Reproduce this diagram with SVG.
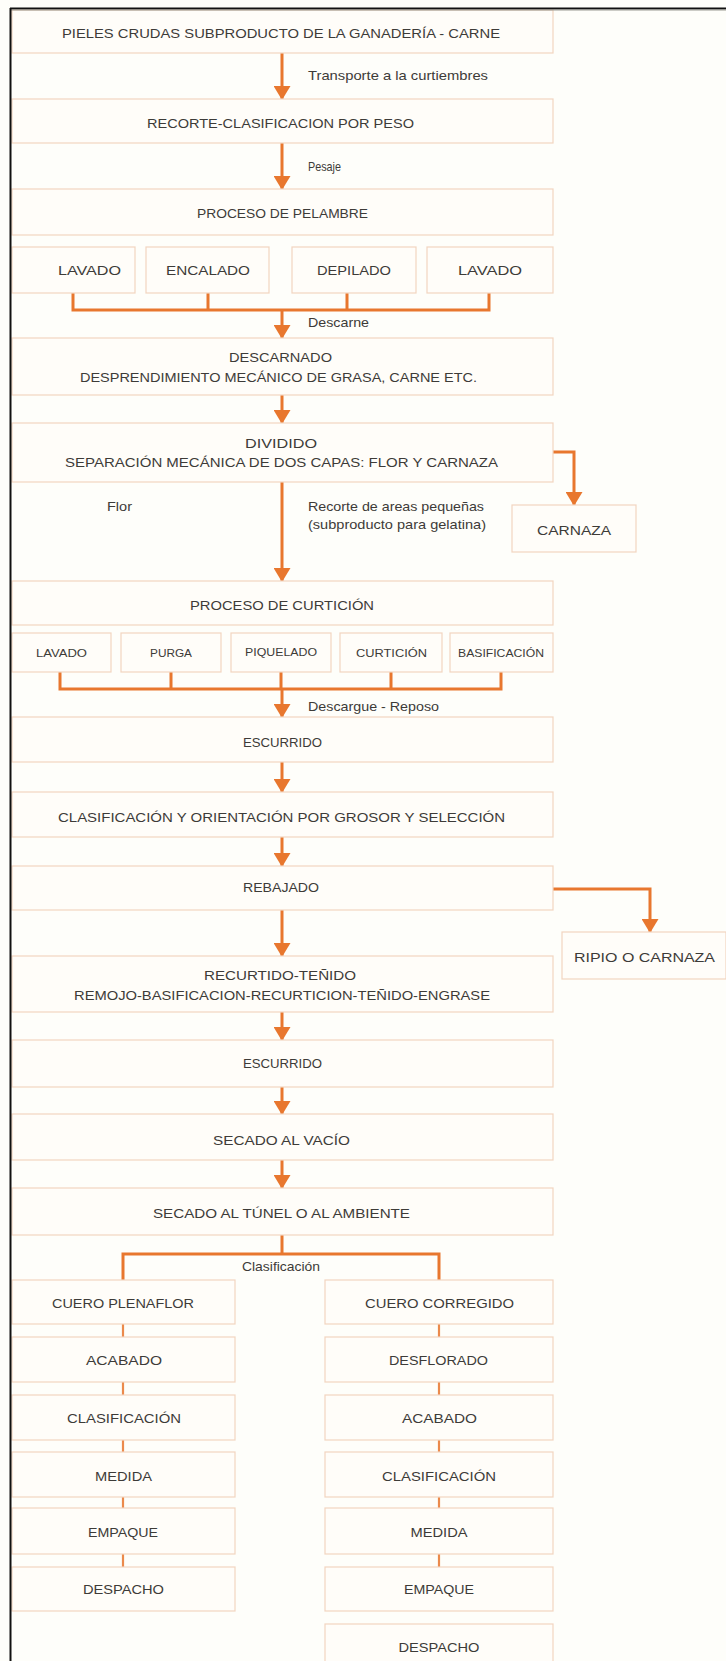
<svg xmlns="http://www.w3.org/2000/svg" width="726" height="1661" viewBox="0 0 726 1661">
  <defs>
    <style>
      .box { fill: #fffdf9; stroke: #f2d5c0; stroke-width: 1.2; }
      .t { font-family: "Liberation Sans", Arial, sans-serif; font-size: 13.5px; fill: #3d3b38; text-anchor: middle; }
      .ts { font-family: "Liberation Sans", Arial, sans-serif; font-size: 11px; fill: #3d3b38; text-anchor: middle; }
      .lbl { font-family: "Liberation Sans", Arial, sans-serif; font-size: 13px; fill: #3d3b38; }
      .lblc { font-family: "Liberation Sans", Arial, sans-serif; font-size: 13px; fill: #3d3b38; text-anchor: middle; }
      .flow { fill: none; stroke: #e8772e; stroke-width: 3; }
      .arrow { fill: none; stroke: #e8772e; stroke-width: 3; marker-end: url(#head); }
      .tick { fill: none; stroke: #eb8a4c; stroke-width: 2.2; }
    </style>
    <marker id="head" viewBox="0 0 14 17" refX="13" refY="8.5" markerWidth="14" markerHeight="17" markerUnits="userSpaceOnUse" orient="auto">
      <path d="M0,0 L14,8.5 L0,17 z" fill="#e8772e"/>
    </marker>
  </defs>

  <!-- page -->
  <rect x="0" y="0" width="726" height="1661" fill="#fefefa"/>

  <!-- connectors -->
  <g id="connectors">
    <line class="arrow" x1="282" y1="53" x2="282" y2="99"/>
    <line class="arrow" x1="282" y1="143" x2="282" y2="189"/>
    <!-- pelambre sub-steps merge -->
    <path class="flow" d="M73,293 V310 M208,293 V310 M347,293 V310 M489,293 V310 M71.5,310 H490.5"/>
    <line class="arrow" x1="282" y1="310" x2="282" y2="338"/>
    <line class="arrow" x1="282" y1="395" x2="282" y2="423"/>
    <line class="arrow" x1="282" y1="482" x2="282" y2="581"/>
    <path class="arrow" d="M553,452 H574 V505"/>
    <!-- curtición sub-steps merge -->
    <path class="flow" d="M60,672 V689 M171,672 V689 M281,672 V689 M391,672 V689 M501,672 V689 M58.5,689 H502.5"/>
    <line class="arrow" x1="282" y1="689" x2="282" y2="717"/>
    <line class="arrow" x1="282" y1="762" x2="282" y2="792"/>
    <line class="arrow" x1="282" y1="837" x2="282" y2="866"/>
    <path class="arrow" d="M553,889 H650 V932"/>
    <line class="arrow" x1="282" y1="910" x2="282" y2="956"/>
    <line class="arrow" x1="282" y1="1012" x2="282" y2="1040"/>
    <line class="arrow" x1="282" y1="1087" x2="282" y2="1114"/>
    <line class="arrow" x1="282" y1="1160" x2="282" y2="1188"/>
    <!-- split by classification -->
    <path class="flow" d="M282,1235 V1254 M121.5,1254 H440.5 M123,1254 V1280 M439,1254 V1280"/>
    <!-- left column links -->
    <path class="tick" d="M123,1324 V1337 M123,1382 V1395 M123,1440 V1452 M123,1497 V1508 M123,1554 V1567"/>
    <!-- right column links -->
    <path class="tick" d="M439,1324 V1337 M439,1382 V1395 M439,1440 V1452 M439,1497 V1508 M439,1554 V1567"/>
    <text class="lbl" x="308" y="80" textLength="180" lengthAdjust="spacingAndGlyphs">Transporte a la curtiembres</text>
    <text class="lbl" x="308" y="171" textLength="33" lengthAdjust="spacingAndGlyphs">Pesaje</text>
    <text class="lbl" x="308" y="327" textLength="61" lengthAdjust="spacingAndGlyphs">Descarne</text>
    <text class="lbl" x="107" y="511" textLength="25" lengthAdjust="spacingAndGlyphs">Flor</text>
    <text class="lbl" x="308" y="511" textLength="176" lengthAdjust="spacingAndGlyphs">Recorte de areas pequeñas</text>
    <text class="lbl" x="308" y="529" textLength="178" lengthAdjust="spacingAndGlyphs">(subproducto para gelatina)</text>
    <text class="lbl" x="308" y="711" textLength="131" lengthAdjust="spacingAndGlyphs">Descargue - Reposo</text>
    <text class="lblc" x="281" y="1271" textLength="78" lengthAdjust="spacingAndGlyphs">Clasificación</text>
  </g>

  <g id="n-pieles">
    <rect class="box" x="12" y="10" width="541" height="43"/>
    <text class="t" x="281" y="38" textLength="438" lengthAdjust="spacingAndGlyphs">PIELES CRUDAS SUBPRODUCTO DE LA GANADERÍA - CARNE</text>
  </g>
  <g id="n-recorte">
    <rect class="box" x="12" y="99" width="541" height="44"/>
    <text class="t" x="280.5" y="128" textLength="267" lengthAdjust="spacingAndGlyphs">RECORTE-CLASIFICACION POR PESO</text>
  </g>
  <g id="n-pelambre">
    <rect class="box" x="12" y="189" width="541" height="46"/>
    <text class="t" x="282.5" y="218" textLength="171" lengthAdjust="spacingAndGlyphs">PROCESO DE PELAMBRE</text>
  </g>
  <g id="n-lavado1">
    <rect class="box" x="12" y="247" width="123" height="46"/>
    <text class="t" x="89.5" y="275" textLength="63" lengthAdjust="spacingAndGlyphs">LAVADO</text>
  </g>
  <g id="n-encalado">
    <rect class="box" x="146" y="247" width="123" height="46"/>
    <text class="t" x="208" y="275" textLength="84" lengthAdjust="spacingAndGlyphs">ENCALADO</text>
  </g>
  <g id="n-depilado">
    <rect class="box" x="292" y="247" width="124" height="46"/>
    <text class="t" x="354" y="275" textLength="74" lengthAdjust="spacingAndGlyphs">DEPILADO</text>
  </g>
  <g id="n-lavado2">
    <rect class="box" x="427" y="247" width="126" height="46"/>
    <text class="t" x="490" y="275" textLength="64" lengthAdjust="spacingAndGlyphs">LAVADO</text>
  </g>
  <g id="n-descarnado">
    <rect class="box" x="12" y="338" width="541" height="57"/>
    <text class="t" x="280.5" y="362" textLength="103" lengthAdjust="spacingAndGlyphs">DESCARNADO</text>
    <text class="t" x="278.5" y="382" textLength="397" lengthAdjust="spacingAndGlyphs">DESPRENDIMIENTO MECÁNICO DE GRASA, CARNE ETC.</text>
  </g>
  <g id="n-dividido">
    <rect class="box" x="12" y="423" width="541" height="59"/>
    <text class="t" x="281" y="448" textLength="72" lengthAdjust="spacingAndGlyphs">DIVIDIDO</text>
    <text class="t" x="281.5" y="467" textLength="433" lengthAdjust="spacingAndGlyphs">SEPARACIÓN MECÁNICA DE DOS CAPAS: FLOR Y CARNAZA</text>
  </g>
  <g id="n-carnaza">
    <rect class="box" x="512" y="505" width="124" height="47"/>
    <text class="t" x="574" y="535" textLength="74" lengthAdjust="spacingAndGlyphs">CARNAZA</text>
  </g>
  <g id="n-curticion">
    <rect class="box" x="12" y="581" width="541" height="44"/>
    <text class="t" x="282" y="610" textLength="184" lengthAdjust="spacingAndGlyphs">PROCESO DE CURTICIÓN</text>
  </g>
  <g id="n-c-lavado">
    <rect class="box" x="12" y="633" width="99" height="39"/>
    <text class="ts" x="61.5" y="657" textLength="51" lengthAdjust="spacingAndGlyphs">LAVADO</text>
  </g>
  <g id="n-c-purga">
    <rect class="box" x="121" y="633" width="100" height="39"/>
    <text class="ts" x="171" y="657" textLength="42" lengthAdjust="spacingAndGlyphs">PURGA</text>
  </g>
  <g id="n-c-piquelado">
    <rect class="box" x="231" y="633" width="100" height="39"/>
    <text class="ts" x="281" y="656" textLength="72" lengthAdjust="spacingAndGlyphs">PIQUELADO</text>
  </g>
  <g id="n-c-curticion">
    <rect class="box" x="340" y="633" width="102" height="39"/>
    <text class="ts" x="391.5" y="657" textLength="71" lengthAdjust="spacingAndGlyphs">CURTICIÓN</text>
  </g>
  <g id="n-c-basificacion">
    <rect class="box" x="450" y="633" width="103" height="39"/>
    <text class="ts" x="501" y="657" textLength="86" lengthAdjust="spacingAndGlyphs">BASIFICACIÓN</text>
  </g>
  <g id="n-escurrido1">
    <rect class="box" x="12" y="717" width="541" height="45"/>
    <text class="t" x="282.5" y="747" textLength="79" lengthAdjust="spacingAndGlyphs">ESCURRIDO</text>
  </g>
  <g id="n-clasif-grosor">
    <rect class="box" x="12" y="792" width="541" height="45"/>
    <text class="t" x="281.5" y="822" textLength="447" lengthAdjust="spacingAndGlyphs">CLASIFICACIÓN Y ORIENTACIÓN POR GROSOR Y SELECCIÓN</text>
  </g>
  <g id="n-rebajado">
    <rect class="box" x="12" y="866" width="541" height="44"/>
    <text class="t" x="281" y="892" textLength="76" lengthAdjust="spacingAndGlyphs">REBAJADO</text>
  </g>
  <g id="n-ripio">
    <rect class="box" x="562" y="932" width="164" height="47"/>
    <text class="t" x="644.5" y="962" textLength="141" lengthAdjust="spacingAndGlyphs">RIPIO O CARNAZA</text>
  </g>
  <g id="n-recurtido">
    <rect class="box" x="12" y="956" width="541" height="56"/>
    <text class="t" x="280" y="980" textLength="152" lengthAdjust="spacingAndGlyphs">RECURTIDO-TEÑIDO</text>
    <text class="t" x="282" y="1000" textLength="416" lengthAdjust="spacingAndGlyphs">REMOJO-BASIFICACION-RECURTICION-TEÑIDO-ENGRASE</text>
  </g>
  <g id="n-escurrido2">
    <rect class="box" x="12" y="1040" width="541" height="47"/>
    <text class="t" x="282.5" y="1068" textLength="79" lengthAdjust="spacingAndGlyphs">ESCURRIDO</text>
  </g>
  <g id="n-vacio">
    <rect class="box" x="12" y="1114" width="541" height="46"/>
    <text class="t" x="281.5" y="1145" textLength="137" lengthAdjust="spacingAndGlyphs">SECADO AL VACÍO</text>
  </g>
  <g id="n-tunel">
    <rect class="box" x="12" y="1188" width="541" height="47"/>
    <text class="t" x="281.5" y="1218" textLength="257" lengthAdjust="spacingAndGlyphs">SECADO AL TÚNEL O AL AMBIENTE</text>
  </g>

  <!-- left branch: full grain -->
  <g id="n-plenaflor">
    <rect class="box" x="12" y="1280" width="223" height="44"/>
    <text class="t" x="123" y="1308" textLength="142" lengthAdjust="spacingAndGlyphs">CUERO PLENAFLOR</text>
  </g>
  <g id="n-l-acabado">
    <rect class="box" x="12" y="1337" width="223" height="45"/>
    <text class="t" x="124" y="1365" textLength="76" lengthAdjust="spacingAndGlyphs">ACABADO</text>
  </g>
  <g id="n-l-clasificacion">
    <rect class="box" x="12" y="1395" width="223" height="45"/>
    <text class="t" x="124" y="1423" textLength="114" lengthAdjust="spacingAndGlyphs">CLASIFICACIÓN</text>
  </g>
  <g id="n-l-medida">
    <rect class="box" x="12" y="1452" width="223" height="45"/>
    <text class="t" x="123.5" y="1481" textLength="57" lengthAdjust="spacingAndGlyphs">MEDIDA</text>
  </g>
  <g id="n-l-empaque">
    <rect class="box" x="12" y="1508" width="223" height="46"/>
    <text class="t" x="123" y="1537" textLength="70" lengthAdjust="spacingAndGlyphs">EMPAQUE</text>
  </g>
  <g id="n-l-despacho">
    <rect class="box" x="12" y="1567" width="223" height="44"/>
    <text class="t" x="123.5" y="1594" textLength="81" lengthAdjust="spacingAndGlyphs">DESPACHO</text>
  </g>

  <!-- right branch: corrected grain -->
  <g id="n-corregido">
    <rect class="box" x="325" y="1280" width="228" height="44"/>
    <text class="t" x="439.5" y="1308" textLength="149" lengthAdjust="spacingAndGlyphs">CUERO CORREGIDO</text>
  </g>
  <g id="n-r-desflorado">
    <rect class="box" x="325" y="1337" width="228" height="45"/>
    <text class="t" x="438.5" y="1365" textLength="99" lengthAdjust="spacingAndGlyphs">DESFLORADO</text>
  </g>
  <g id="n-r-acabado">
    <rect class="box" x="325" y="1395" width="228" height="45"/>
    <text class="t" x="439.5" y="1423" textLength="75" lengthAdjust="spacingAndGlyphs">ACABADO</text>
  </g>
  <g id="n-r-clasificacion">
    <rect class="box" x="325" y="1452" width="228" height="45"/>
    <text class="t" x="439" y="1481" textLength="114" lengthAdjust="spacingAndGlyphs">CLASIFICACIÓN</text>
  </g>
  <g id="n-r-medida">
    <rect class="box" x="325" y="1508" width="228" height="46"/>
    <text class="t" x="439" y="1537" textLength="57" lengthAdjust="spacingAndGlyphs">MEDIDA</text>
  </g>
  <g id="n-r-empaque">
    <rect class="box" x="325" y="1567" width="228" height="44"/>
    <text class="t" x="439" y="1594" textLength="70" lengthAdjust="spacingAndGlyphs">EMPAQUE</text>
  </g>
  <g id="n-r-despacho">
    <rect class="box" x="325" y="1624" width="228" height="45"/>
    <text class="t" x="439" y="1652" textLength="81" lengthAdjust="spacingAndGlyphs">DESPACHO</text>
  </g>

  <!-- page frame -->
  <g id="frame">
    <line x1="10" y1="8.5" x2="726" y2="8.5" stroke="#111" stroke-width="2"/>
    <line x1="10" y1="10" x2="726" y2="10" stroke="#9a9a92" stroke-width="1"/>
    <line x1="10.5" y1="8" x2="10.5" y2="1661" stroke="#111" stroke-width="2"/>
  </g>
</svg>
